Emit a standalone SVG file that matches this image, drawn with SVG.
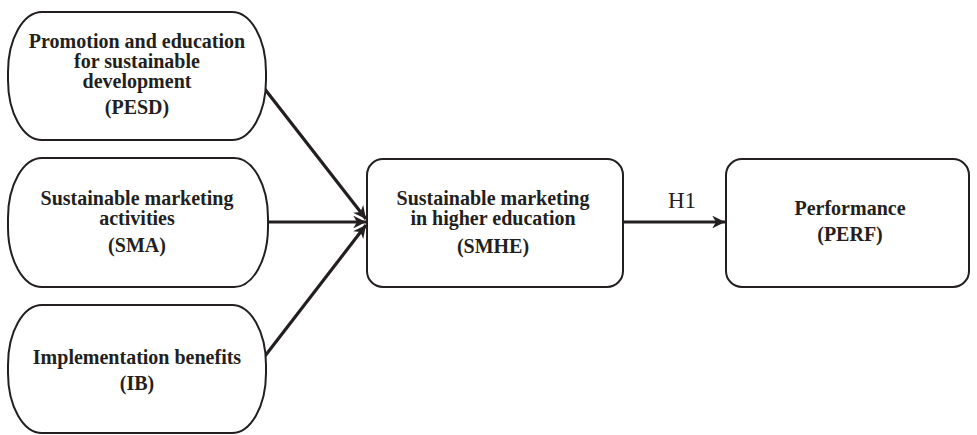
<svg xmlns="http://www.w3.org/2000/svg" width="977" height="435" viewBox="0 0 977 435">
<defs>
<marker id="ah" viewBox="0 0 10 10" refX="10" refY="5" markerWidth="4" markerHeight="4" markerUnits="strokeWidth" orient="auto">
<path d="M0,0 L10,5 L0,10 L3,5 Z" fill="#231f20"/>
</marker>
<style>
.n{fill:#fff;stroke:#231f20;stroke-width:2}
.t{font-family:"Liberation Serif","Times New Roman",serif;font-weight:bold;font-size:20px;fill:#231f20;text-anchor:middle}
.e{stroke:#231f20;stroke-width:3.2;fill:none;marker-end:url(#ah)}
.l{font-family:"Liberation Serif","Times New Roman",serif;font-size:23px;fill:#231f20;text-anchor:middle}
</style>
</defs>
<rect width="977" height="435" fill="#fff"/>
<g id="edges">
<line class="e" x1="264" y1="88" x2="366" y2="219"/>
<line class="e" x1="268" y1="222" x2="366" y2="222"/>
<line class="e" x1="265" y1="356" x2="366" y2="225"/>
<line class="e" x1="623" y1="222" x2="725" y2="222"/>
<text class="l" x="682" y="208">H1</text>
</g>
<g id="PESD">
<rect class="n" x="8" y="12" width="258" height="128" rx="34" ry="60"/>
<text class="t" x="137" y="48">Promotion and education</text>
<text class="t" x="137" y="68">for sustainable</text>
<text class="t" x="137" y="88">development</text>
<text class="t" x="137" y="114">(PESD)</text>
</g>
<g id="SMA">
<rect class="n" x="8" y="158" width="260" height="129" rx="34" ry="60"/>
<text class="t" x="137" y="205">Sustainable marketing</text>
<text class="t" x="137" y="225">activities</text>
<text class="t" x="137" y="252">(SMA)</text>
</g>
<g id="IB">
<rect class="n" x="8" y="305" width="258" height="128" rx="34" ry="60"/>
<text class="t" x="137" y="364">Implementation benefits</text>
<text class="t" x="137" y="390">(IB)</text>
</g>
<g id="SMHE">
<rect class="n" x="367" y="159" width="256" height="128" rx="16" ry="16"/>
<text class="t" x="493" y="205">Sustainable marketing</text>
<text class="t" x="493" y="225">in higher education</text>
<text class="t" x="493" y="253">(SMHE)</text>
</g>
<g id="PERF">
<rect class="n" x="726" y="159" width="243" height="128" rx="16" ry="16"/>
<text class="t" x="850" y="215">Performance</text>
<text class="t" x="850" y="241">(PERF)</text>
</g>
</svg>
